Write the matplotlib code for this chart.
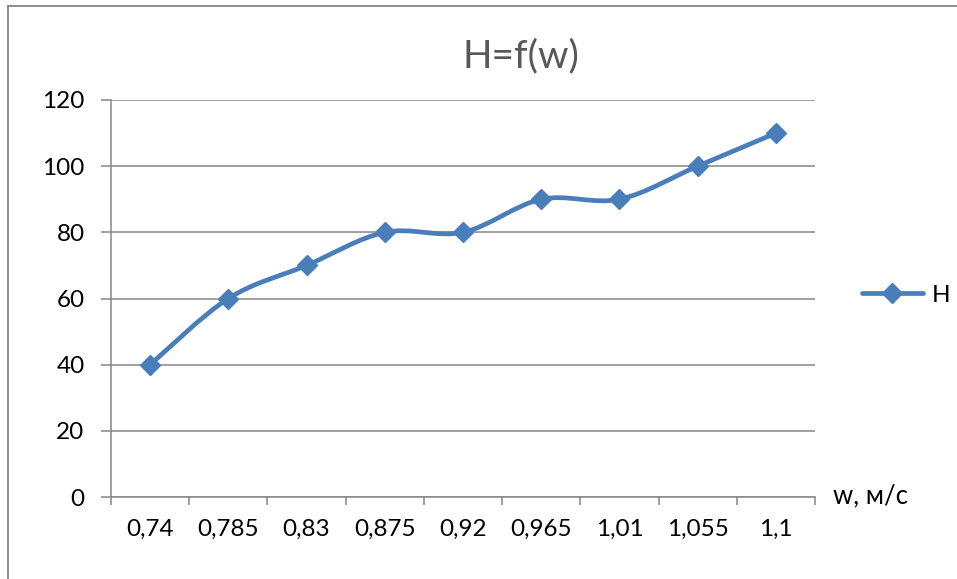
import matplotlib.pyplot as plt
import numpy as np
from matplotlib.lines import Line2D
from matplotlib.path import Path
from matplotlib.patches import PathPatch

w_labels = ["0,74", "0,785", "0,83", "0,875", "0,92", "0,965", "1,01", "1,055", "1,1"]
H = [40, 60, 70, 80, 80, 90, 90, 100, 110]

_LINE = "#4a7ebb"
_GRID = "#868686"

plt.rcParams["font.family"] = ["Lato", "DejaVu Sans"]


def smooth_path(x, y):
    """Catmull-Rom style bezier through the points (like a smoothed office chart line)."""
    x = np.asarray(x, float)
    y = np.asarray(y, float)
    n = len(x)
    verts = [(x[0], y[0])]
    codes = [Path.MOVETO]
    for i in range(n - 1):
        x0, y0 = (x[i - 1], y[i - 1]) if i > 0 else (x[i], y[i])
        x3, y3 = (x[i + 2], y[i + 2]) if i + 2 < n else (x[i + 1], y[i + 1])
        c1 = (x[i] + (x[i + 1] - x0) / 6, y[i] + (y[i + 1] - y0) / 6)
        c2 = (x[i + 1] - (x3 - x[i]) / 6, y[i + 1] - (y3 - y[i]) / 6)
        verts += [c1, c2, (x[i + 1], y[i + 1])]
        codes += [Path.CURVE4] * 3
    return Path(verts, codes)


fig = plt.figure(figsize=(9.57, 5.79), dpi=100)
ax = fig.add_axes([111 / 957, 1 - 497 / 579, 704 / 957, 397 / 579])

xpos = np.arange(len(H))
ax.add_patch(PathPatch(smooth_path(xpos, H), fill=False, edgecolor=_LINE,
                       lw=3.4, capstyle="round", joinstyle="round", zorder=3))
ax.plot(xpos, H, ls="none", marker="D", ms=10, color=_LINE, zorder=4)

ax.set_xlim(-0.5, len(H) - 0.5)
ax.set_ylim(0, 120)
ax.set_yticks(np.arange(0, 121, 20))
ax.yaxis.grid(True, color=_GRID, lw=1.1)
ax.set_axisbelow(True)

ax.set_xticks(xpos)
ax.set_xticklabels(w_labels)
ax.set_xticks(np.arange(-0.5, len(H)), minor=True)
ax.tick_params(axis="x", which="major", length=0, pad=16, labelsize=17.5)
ax.tick_params(axis="x", which="minor", length=6, width=1.1, color=_GRID)
ax.tick_params(axis="y", length=7, width=1.1, color=_GRID, pad=12, labelsize=17.5)

for side in ("top", "right"):
    ax.spines[side].set_visible(False)
for side in ("left", "bottom"):
    ax.spines[side].set_color(_GRID)
    ax.spines[side].set_linewidth(1.1)

fig.text(521 / 957, 1 - 56 / 579, "H=f(w)", ha="center", va="center",
         fontsize=28, color="#595959")
fig.text(833 / 957, 1 - 496 / 579, "w, м/с", ha="left", va="center", fontsize=18.5)

handle = Line2D([], [], color=_LINE, lw=3.4, marker="D", ms=10, solid_capstyle="round")
fig.legend([handle], ["H"], loc="center left", bbox_to_anchor=(862 / 957, 1 - 295 / 579),
           frameon=False, borderpad=0, borderaxespad=0, handlelength=2.5,
           handletextpad=0.35, fontsize=17.5)

# outer chart border
fig.add_artist(Line2D([8 / 957, 8 / 957], [0, 1 - 6 / 579], color="#8c8c8c", lw=1.4))
fig.add_artist(Line2D([8 / 957, 1], [1 - 6 / 579, 1 - 6 / 579], color="#8c8c8c", lw=1.4))

fig.savefig("out.png", dpi=100)
